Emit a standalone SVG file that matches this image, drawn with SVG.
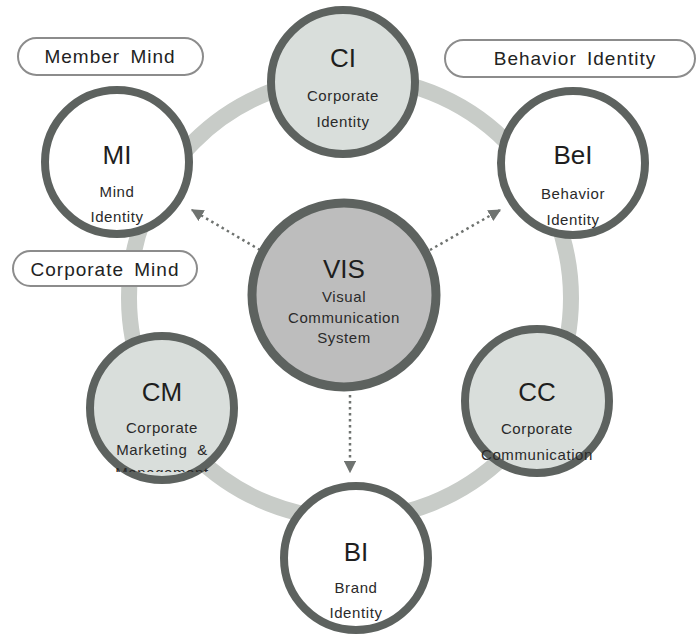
<svg xmlns="http://www.w3.org/2000/svg" width="696" height="635" viewBox="0 0 696 635">
  <style>
    .ring { fill: none; stroke: #c8ccc8; stroke-width: 16; }
    .node { stroke: #5d625f; stroke-width: 8; }
    .white { fill: #ffffff; }
    .tint { fill: #d9dedb; }
    .core { fill: #bdbdbd; stroke: #5d625f; stroke-width: 9; }
    .title { font-family: "Liberation Sans", Arial, sans-serif; font-size: 26px; fill: #1e1e1e; text-anchor: middle; }
    .sub { font-family: "Liberation Sans", Arial, sans-serif; font-size: 15px; fill: #2a2a2a; text-anchor: middle; letter-spacing: 0.6px; }
    .pill { fill: #ffffff; stroke: #8c8c8c; stroke-width: 2; }
    .pilltext { font-family: "Liberation Sans", Arial, sans-serif; font-size: 19px; fill: #222; text-anchor: middle; letter-spacing: 1px; word-spacing: 4px; }
    .dots { fill: none; stroke: #6f7370; stroke-width: 2.5; stroke-dasharray: 2.5 3.5; }
  </style>
  <defs>
    <marker id="head" viewBox="0 0 10 10" refX="9" refY="5" markerWidth="5" markerHeight="5" orient="auto" markerUnits="strokeWidth">
      <path d="M0,0 L10,5 L0,10 Z" fill="#6f7370"/>
    </marker>
    <clipPath id="cmClip">
      <rect x="80" y="330" width="170" height="142"/>
    </clipPath>
  </defs>

  <rect width="696" height="635" fill="#ffffff"/>

  <!-- outer ring linking the identity nodes -->
  <circle class="ring" cx="350" cy="298" r="221"/>

  <!-- dotted connectors from the centre -->
  <g id="connectors">
    <line class="dots" x1="260" y1="250" x2="192" y2="210" marker-end="url(#head)"/>
    <line class="dots" x1="430" y1="250" x2="500" y2="210" marker-end="url(#head)"/>
    <line class="dots" x1="350" y1="395" x2="350" y2="472" marker-end="url(#head)"/>
  </g>

  <g id="node-ci">
    <circle class="node tint" cx="343" cy="82" r="72"/>
    <text class="title" x="343" y="67">CI</text>
    <text class="sub" x="343" y="101">Corporate</text>
    <text class="sub" x="343" y="127">Identity</text>
  </g>

  <g id="node-mi">
    <circle class="node white" cx="117" cy="162" r="72"/>
    <text class="title" x="117" y="164">MI</text>
    <text class="sub" x="117" y="197">Mind</text>
    <text class="sub" x="117" y="222">Identity</text>
  </g>

  <g id="node-bei">
    <circle class="node white" cx="573" cy="163" r="72"/>
    <text class="title" x="573" y="164">BeI</text>
    <text class="sub" x="573" y="199">Behavior</text>
    <text class="sub" x="573" y="225">Identity</text>
  </g>

  <g id="node-cm">
    <circle class="node tint" cx="162" cy="408" r="72"/>
    <g clip-path="url(#cmClip)">
      <text class="title" x="162" y="401">CM</text>
      <text class="sub" x="162" y="433">Corporate</text>
      <text class="sub" x="162" y="455" word-spacing="5">Marketing &amp;</text>
      <text class="sub" x="162" y="478">Management</text>
    </g>
  </g>

  <g id="node-cc">
    <circle class="node tint" cx="537" cy="401" r="72"/>
    <text class="title" x="537" y="401">CC</text>
    <text class="sub" x="537" y="434">Corporate</text>
    <text class="sub" x="537" y="460">Communication</text>
  </g>

  <g id="node-bi">
    <circle class="node white" cx="356" cy="558" r="72"/>
    <text class="title" x="356" y="561">BI</text>
    <text class="sub" x="356" y="593">Brand</text>
    <text class="sub" x="356" y="618">Identity</text>
  </g>

  <g id="node-vis">
    <circle class="core" cx="344" cy="295" r="92"/>
    <text class="title" x="344" y="278">VIS</text>
    <text class="sub" x="344" y="302">Visual</text>
    <text class="sub" x="344" y="323">Communication</text>
    <text class="sub" x="344" y="343">System</text>
  </g>

  <g id="label-member-mind">
    <rect class="pill" x="18" y="38" width="185" height="37" rx="18.5"/>
    <text class="pilltext" x="110" y="63">Member Mind</text>
  </g>

  <g id="label-behavior-identity">
    <rect class="pill" x="445" y="40" width="250" height="37" rx="18.5"/>
    <text class="pilltext" x="575" y="65">Behavior Identity</text>
  </g>

  <g id="label-corporate-mind">
    <rect class="pill" x="13" y="251" width="184" height="35" rx="17.5"/>
    <text class="pilltext" x="105" y="276">Corporate Mind</text>
  </g>
</svg>
